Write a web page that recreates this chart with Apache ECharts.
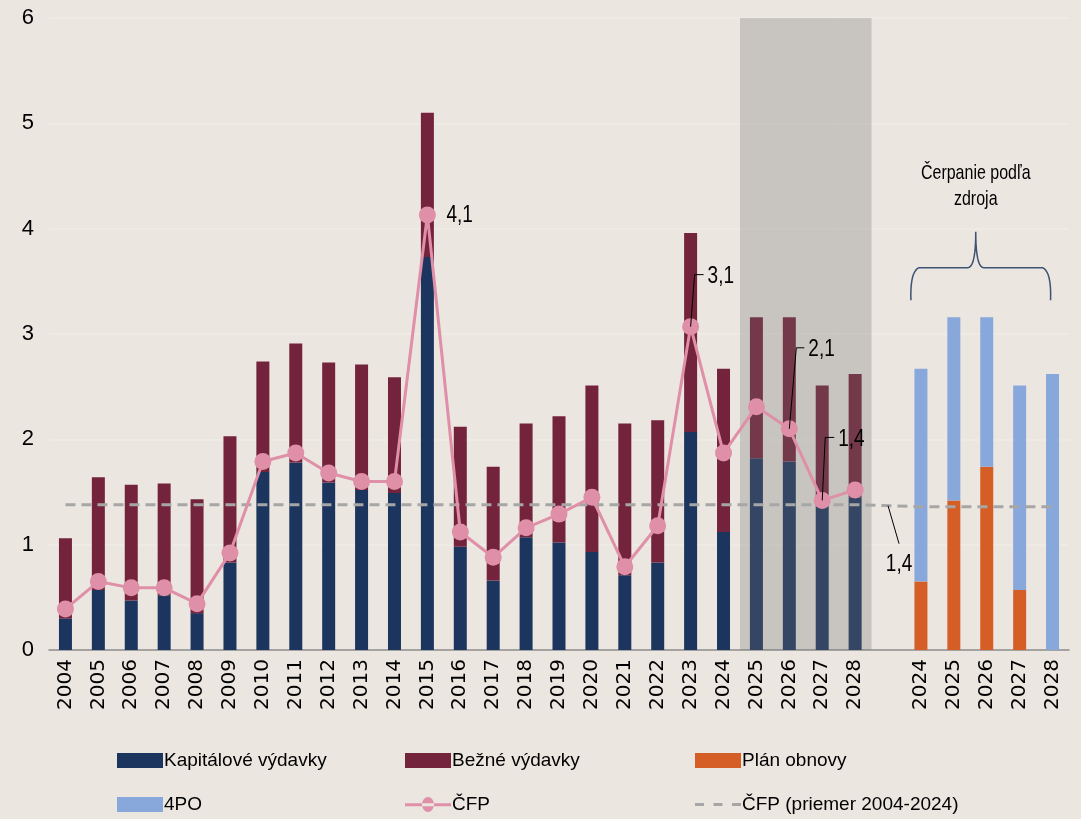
<!DOCTYPE html>
<html>
<head>
<meta charset="utf-8">
<script src="https://cdn.jsdelivr.net/npm/echarts@6/dist/echarts.min.js"></script>
<style>
html,body{margin:0;padding:0;background:#ece6e0;}
#chart{width:1081px;height:819px;}
</style>
</head>
<body>
<div id="chart"></div>
<script>
// ---- data ----
const yearsHist = ['2004','2005','2006','2007','2008','2009','2010','2011','2012','2013','2014','2015','2016','2017','2018','2019','2020','2021','2022','2023','2024','2025','2026','2027','2028'];
const yearsSource = ['2024','2025','2026','2027','2028'];
const forecastYears = ['2025','2026','2027','2028'];
const kapitalove = [0.30,0.57,0.47,0.52,0.35,0.83,1.69,1.78,1.59,1.52,1.49,3.73,0.98,0.66,1.07,1.02,0.93,0.71,0.83,2.07,1.12,1.82,1.79,1.38,1.45];
const bezne      = [0.76,1.07,1.10,1.06,1.08,1.20,1.05,1.13,1.14,1.19,1.10,1.37,1.14,1.08,1.08,1.20,1.58,1.44,1.35,1.89,1.55,1.34,1.37,1.13,1.17];
const planObnovy = [0.65,1.42,1.74,0.57,0];
const po4        = [2.02,1.74,1.42,1.94,2.62];
const cfp        = [0.39,0.65,0.59,0.59,0.44,0.92,1.79,1.87,1.68,1.60,1.60,4.13,1.12,0.88,1.16,1.29,1.45,0.79,1.18,3.07,1.87,2.31,2.10,1.42,1.52];
const cfpPriemer = 1.38;       // average 2004-2024, drawn over history
const cfpPriemerZdroj = 1.36;  // average, drawn over source panel
const yTicks = [0,1,2,3,4,5,6];

// ---- build ----
const categories = [...yearsHist, '', ...yearsSource];
const nH = yearsHist.length, nS = yearsSource.length;
const histOnly = arr => [...arr, null, ...yearsSource.map(() => null)];
const srcOnly = arr => [...yearsHist.map(() => null), null, ...arr];
const yMax = yTicks[yTicks.length - 1];
const shadeData = categories.map((c, i) => (i < nH && forecastYears.includes(c)) ? yMax : null);
const avgData = [...yearsHist.map(() => cfpPriemer), null, ...yearsSource.map(() => cfpPriemerZdroj)];

const SANS = "'Liberation Sans',Arial,sans-serif";
const C = {
  kap: '#1c355e', bez: '#74233c', plan: '#d55e27', po: '#88a8dc',
  cfp: '#e08fa8', avg: '#a6a6a6'
};

const chart = echarts.init(document.getElementById('chart'), null, {renderer: 'canvas'});
const legendBase = (name, left, top, extra) => Object.assign({
  data: [name], left: left, top: top, itemWidth: 46, itemHeight: 15, itemGap: 0,
  textStyle: {fontFamily: SANS, fontSize: 19, color: '#000', padding: [0,0,0,-4]},
  selectedMode: false
}, extra || {});

const cfpIcon = 'path://M0,6.2h46v3h-46z M17,7.5a6,7.5 0 1,0 12,0a6,7.5 0 1,0 -12,0z';
const avgIcon = 'path://M0,0h9v3h-9z M18.5,0h9v3h-9z M37,0h9v3h-9z';

const option = {
  backgroundColor: '#ece6e0',
  animation: false,
  grid: {left: 49, right: 12, top: 18, bottom: 169, containLabel: false},
  legend: [
    legendBase('Kapitálové výdavky', 112, 746, {icon: 'rect'}),
    legendBase('Bežné výdavky', 400, 746, {icon: 'rect'}),
    legendBase('Plán obnovy', 690, 746, {icon: 'rect'}),
    legendBase('4PO', 112, 790, {icon: 'rect'}),
    legendBase('ČFP', 400, 790, {icon: cfpIcon}),
    legendBase('ČFP (priemer 2004-2024)', 690, 790, {icon: avgIcon, itemHeight: 3})
  ],
  xAxis: [{
    type: 'category', data: categories,
    axisLine: {lineStyle: {color: '#8c8c8c', width: 1.5}},
    axisTick: {length: 7, lineStyle: {color: '#8c8c8c', width: 1.5}},
    axisLabel: {rotate: 90, interval: 0, fontFamily: 'DejaVu Sans', fontSize: 20, color: '#000', margin: 9}
  }, {
    type: 'category', data: categories, show: false
  }],
  yAxis: {
    type: 'value', min: 0, max: yMax, interval: 1,
    axisLine: {show: false}, axisTick: {show: false},
    axisLabel: {fontFamily: SANS, fontSize: 22, color: '#000', margin: 15},
    splitLine: {lineStyle: {color: '#efebe6', width: 1.5}}
  },
  series: [
    {name: 'Kapitálové výdavky', type: 'bar', stack: 'a', barWidth: 13, data: histOnly(kapitalove), itemStyle: {color: C.kap}, z: 2},
    {name: 'Bežné výdavky', type: 'bar', stack: 'a', barWidth: 13, data: histOnly(bezne), itemStyle: {color: C.bez}, z: 2},
    {name: 'Plán obnovy', type: 'bar', stack: 'a', barWidth: 13, data: srcOnly(planObnovy), itemStyle: {color: C.plan}, z: 2},
    {name: '4PO', type: 'bar', stack: 'a', barWidth: 13, data: srcOnly(po4), itemStyle: {color: C.po}, z: 2},
    {name: 'shade', type: 'bar', xAxisIndex: 1, barWidth: '100%', data: shadeData, silent: true,
      itemStyle: {color: 'rgba(114,114,114,0.29)'}, z: 3},
    {name: 'ČFP (priemer 2004-2024)', type: 'line', data: avgData, connectNulls: true, symbol: 'none',
      lineStyle: {color: C.avg, width: 3, type: [10, 6]}, itemStyle: {color: C.avg}, z: 4},
    {name: 'ČFP', type: 'line', data: histOnly(cfp), symbol: 'circle', symbolSize: 17,
      lineStyle: {color: C.cfp, width: 3}, itemStyle: {color: C.cfp}, z: 5}
  ]
};
chart.setOption(option);

// ---- annotations ----
const fmt = v => v.toFixed(1).replace('.', ',');
const px = (i, v) => chart.convertToPixel({xAxisIndex: 0, yAxisIndex: 0}, [i, v]);
const g = [];
const textEl = (x, y, t, align, size, extra) => Object.assign({
  type: 'text', x: x, y: y, z: 10, scaleY: 1.27,
  style: {text: t, fill: '#000', font: (size || 19) + 'px ' + SANS, align: align || 'left', verticalAlign: 'middle'}
}, extra || {});
// 4,1 at 2015
{
  const i = yearsHist.indexOf('2015');
  const p = px(i, cfp[i]);
  g.push(textEl(p[0] + 19, p[1], fmt(cfp[i])));
}
// leader labels
[['2023', 4, -52, 9], ['2026', 7, -81, 8], ['2027', 3, -63, 9]].forEach(([yr, dx, dy, tick]) => {
  const i = yearsHist.indexOf(yr);
  const p = px(i, cfp[i]);
  const e = [p[0] + dx, p[1] + dy];
  g.push({type: 'polyline', z: 10, shape: {points: [p, e, [e[0] + tick, e[1]]]}, style: {stroke: '#000', lineWidth: 1, fill: null}});
  g.push(textEl(e[0] + tick + 4, e[1] + 2, fmt(cfp[i])));
});
// average label
{
  const p = px(nH, (cfpPriemer + cfpPriemerZdroj) / 2);
  const e = [p[0] + 11, p[1] + 38];
  g.push({type: 'line', z: 10, shape: {x1: p[0], y1: p[1], x2: e[0], y2: e[1]}, style: {stroke: '#000', lineWidth: 1}});
  g.push(textEl(e[0], e[1] + 21, fmt(cfpPriemer), 'center'));
}
// brace over source panel (sampled curve)
{
  const quad = (p0, p1, p2, n) => {
    const out = [];
    for (let k = 1; k <= n; k++) {
      const t = k / n, u = 1 - t;
      out.push([u*u*p0[0] + 2*u*t*p1[0] + t*t*p2[0], u*u*p0[1] + 2*u*t*p1[1] + t*t*p2[1]]);
    }
    return out;
  };
  const a = px(nH + 1, 0)[0], b = px(nH + nS, 0)[0];
  const xL = a - 10, xR = b - 2, xM = (xL + xR) / 2 - 5;
  const yB = px(0, 3.32)[1], yH = px(0, 3.63)[1], yP = px(0, 3.97)[1];
  const r = 8;
  let pts = [[xL, yB]];
  pts = pts.concat(quad([xL, yB], [xL - 1, yH + 4], [xL + r, yH], 10));
  pts.push([xM - r, yH]);
  pts = pts.concat(quad([xM - r, yH], [xM, yH], [xM, yP], 10));
  pts = pts.concat(quad([xM, yP], [xM, yH], [xM + r, yH], 10));
  pts.push([xR - r, yH]);
  pts = pts.concat(quad([xR - r, yH], [xR + 1, yH + 4], [xR, yB], 10));
  g.push({type: 'polyline', z: 10, shape: {points: pts}, style: {stroke: '#3d5275', lineWidth: 1.5, fill: null}});
  g.push({type: 'text', x: xM, y: px(0, 4.4)[1], z: 10, scaleY: 1.3,
    style: {text: 'Čerpanie podľa\nzdroja', fill: '#000', font: '16px ' + SANS, lineHeight: 20,
            align: 'center', verticalAlign: 'middle'}});
}
chart.setOption({graphic: g});
</script>
</body>
</html>
